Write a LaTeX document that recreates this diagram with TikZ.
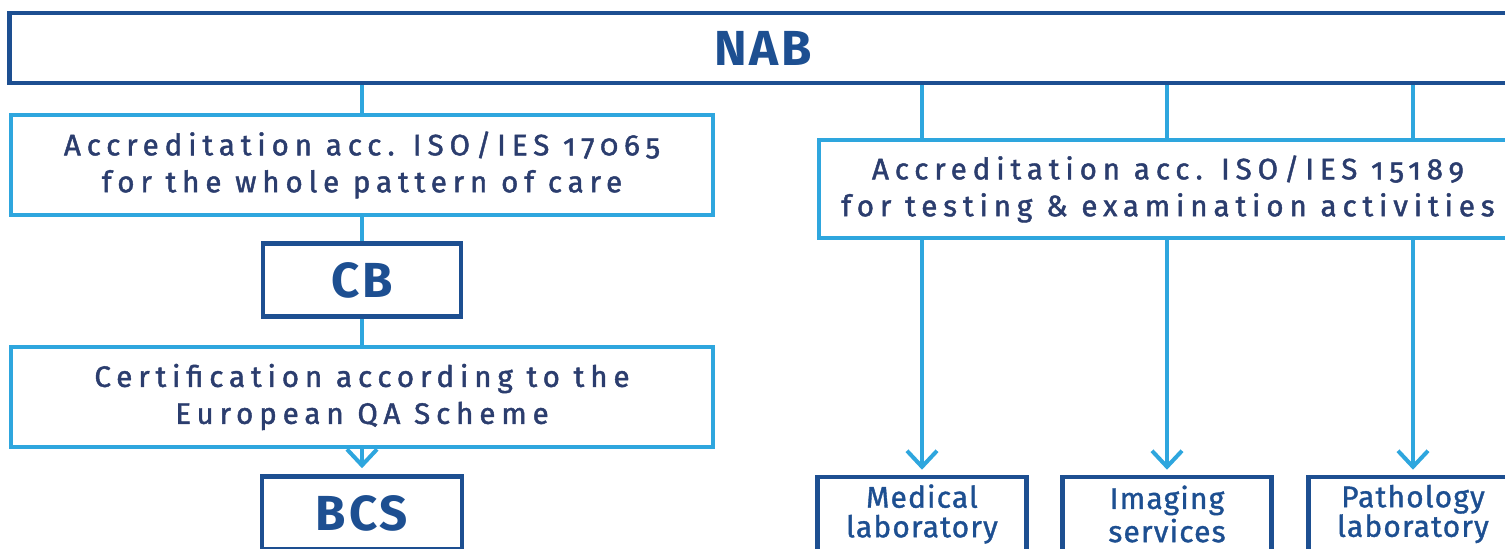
\documentclass[tikz,border=0pt]{standalone}
\usepackage{fontspec}
\setmainfont{Fira Sans}
\newfontfamily\spacedfont[LetterSpace=20,Numbers=OldStyle,FakeBold=1.5]{Fira Sans}
\newfontfamily\unitfont[LetterSpace=4,FakeBold=1.2]{Fira Sans}
\newfontfamily\headfont[LetterSpace=6]{Fira Sans Bold}
\usetikzlibrary{arrows.meta}
\definecolor{nabdark}{HTML}{1D4F91}
\definecolor{nablight}{HTML}{2EA6DE}
\definecolor{nabtext}{HTML}{2B3D6E}

\begin{document}
\begin{tikzpicture}[x=0.01cm, y=-0.01cm,
    >={Straight Barb[length=1.6mm,width=3mm]},
    bigbox/.style={draw=nabdark, line width=0.45mm, fill=white, text=nabdark, font=\headfont\fontsize{14}{16}\selectfont, inner sep=0pt},
    accbox/.style={draw=nablight, line width=0.4mm, fill=white, text=nabtext, align=center, font=\spacedfont\fontsize{8.4}{10.5}\selectfont, inner sep=0pt},
    unitbox/.style={draw=nabdark, line width=0.45mm, fill=white, text=nabdark, align=center, font=\unitfont\fontsize{8.5}{8.4}\selectfont, inner sep=0pt, minimum width=2.09cm, minimum height=0.74cm},
    link/.style={nablight, line width=0.4mm}]
          \useasboundingbox (0,0) rectangle (1505,549);
          \clip (0,0) rectangle (1505,549);
          \fill [white] (0,0) rectangle (1505,549);
          \node [bigbox, minimum width=15.06cm, minimum height=0.70cm] (NAB) at (763,48) {NAB};
          \node [accbox, minimum width=7.02cm, minimum height=1.00cm] (Acc1) at (362,165) {Accreditation acc. ISO/IES 17065\\for the whole pattern of care};
          \node [bigbox, minimum width=1.98cm, minimum height=0.73cm] (CB) at (362,280) {CB};
          \node [accbox, minimum width=7.02cm, minimum height=0.99cm] (Cert) at (362,397) {Certification according to the\\European QA Scheme};
          \node [bigbox, minimum width=2.00cm, minimum height=0.73cm] (BCS) at (362,513) {BCS};
          \node [accbox, minimum width=6.98cm, minimum height=0.98cm] (Acc2) at (1168,189) {Accreditation acc. ISO/IES 15189\\for testing \& examination activities};
          \node [unitbox] (Med) at (922,514) {Medical\\laboratory};
          \node [unitbox] (Img) at (1167,514) {Imaging\\services};
          \node [unitbox] (Path) at (1413,514) {Pathology\\laboratory};
          \draw [link] (Acc1.north |- NAB.south) -- (Acc1.north);
          \draw [link] (Acc1.south) -- (CB.north);
          \draw [link] (CB.south) -- (Cert.north);
          \draw [link, ->, shorten >=0.6mm] (Cert.south) -- (BCS.north);
          \draw [link] (Med.north |- NAB.south) -- (Med.north |- Acc2.north);
          \draw [link] (Img.north |- NAB.south) -- (Img.north |- Acc2.north);
          \draw [link] (Path.north |- NAB.south) -- (Path.north |- Acc2.north);
          \draw [link, ->, shorten >=0.5mm] (Med.north |- Acc2.south) -- (Med.north);
          \draw [link, ->, shorten >=0.5mm] (Img.north |- Acc2.south) -- (Img.north);
          \draw [link, ->, shorten >=0.5mm] (Path.north |- Acc2.south) -- (Path.north);
        \end{tikzpicture}
\end{document}
